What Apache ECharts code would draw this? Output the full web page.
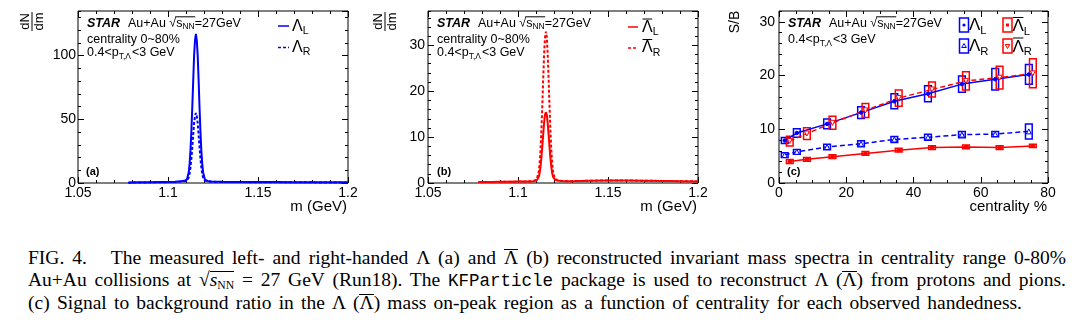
<!DOCTYPE html>
<html>
<head>
<meta charset="utf-8">
<script src="https://cdn.jsdelivr.net/npm/echarts@6/dist/echarts.min.js"></script>
<style>
  html, body { margin: 0; padding: 0; background: #fff; }
  #chart { position: absolute; left: 0; top: 0; width: 1074px; height: 232px; }
  #caption { position: absolute; left: 28px; top: 247px; width: 1038px;
             font-family: "Liberation Serif", serif; font-size: 19.5px; line-height: 22px; color: #000; }
  #caption div { text-align: justify; text-align-last: justify; white-space: nowrap; }
  #caption div.last { width: 994px; }
  .mono { font-family: "Liberation Mono", monospace; font-size: 0.9em; }
  .bar, .rad { display: inline-block; border-top: 1px solid #000; line-height: 0.68em; padding-top: 1px; }
  .sub { font-size: 0.6em; vertical-align: -0.25em; line-height: 0; }
</style>
</head>
<body>
<div id="chart"></div>
<div id="caption">
  <div>FIG. 4.&nbsp;&nbsp; The measured left- and right-handed Λ (a) and <span class="bar">Λ</span> (b) reconstructed invariant mass spectra in centrality range 0-80%</div>
  <div>Au+Au collisions at √<span class="rad"><i>s</i><span class="sub">NN</span></span> = 27 GeV (Run18). The <span class="mono">KFParticle</span> package is used to reconstruct Λ (<span class="bar">Λ</span>) from protons and pions.</div>
  <div class="last">(c) Signal to background ratio in the Λ (<span class="bar">Λ</span>) mass on-peak region as a function of centrality for each observed handedness.</div>
</div>
<script>
// ---- invariant-mass spectra, panels (a) and (b) ----
const massGrid = [1.078, 1.085, 1.09, 1.095, 1.1, 1.104, 1.107, 1.109, 1.1105, 1.1115,
  1.112, 1.1125, 1.113, 1.1135, 1.114, 1.1145, 1.115, 1.1155, 1.116, 1.1165,
  1.117, 1.1175, 1.118, 1.1185, 1.119, 1.1195, 1.1205, 1.122, 1.124, 1.127,
  1.13, 1.135, 1.14, 1.15, 1.16, 1.17, 1.18, 1.19, 1.2];
const lambdaL = [0.3, 0.5, 0.6, 0.7, 0.8, 1.0, 1.3, 1.7, 2.6, 8.4,
  15, 26, 41, 60, 80, 100, 112, 117, 112, 100,
  81, 60, 41, 26, 15.5, 8.5, 2.7, 1.6, 1.2, 1.0,
  0.9, 0.85, 0.8, 0.75, 0.7, 0.65, 0.6, 0.55, 0.5];
const lambdaR = [0.25, 0.4, 0.5, 0.6, 0.7, 0.85, 1.1, 1.4, 1.9, 4.3,
  7.5, 12.5, 19.5, 28.5, 38, 47, 52.5, 55, 52.5, 47,
  38, 28.5, 19.5, 12.5, 7.5, 4.3, 1.9, 1.3, 1.0, 0.85,
  0.8, 0.75, 0.7, 0.65, 0.6, 0.55, 0.5, 0.45, 0.45];
const antiLambdaL = [0.2, 0.2, 0.25, 0.25, 0.3, 0.3, 0.35, 0.4, 0.6, 1.3,
  2.1, 3.5, 5.5, 7.9, 10.6, 13.1, 14.9, 15.4, 14.9, 13.1,
  10.6, 7.9, 5.5, 3.5, 2.1, 1.3, 0.7, 0.55, 0.45, 0.4,
  0.4, 0.45, 0.5, 0.55, 0.55, 0.5, 0.45, 0.4, 0.35];
const antiLambdaR = [0.2, 0.2, 0.25, 0.25, 0.3, 0.3, 0.4, 0.5, 0.9, 2.4,
  4.3, 7.2, 11.5, 16.8, 22.7, 28, 31.8, 33.0, 31.8, 28,
  22.7, 16.8, 11.5, 7.2, 4.3, 2.4, 0.9, 0.6, 0.45, 0.4,
  0.4, 0.45, 0.5, 0.55, 0.55, 0.5, 0.45, 0.4, 0.35];

// ---- signal / background vs centrality, panel (c) ----
const centLambda = [1.7, 5.3, 14.3, 24.4, 34.3, 44.3, 54.4, 64.3, 74.3];
const centAnti   = [3.2, 8.3, 15.9, 25.7, 35.6, 45.5, 55.6, 65.6, 75.5];
const sbLambdaL     = [7.9, 9.3, 11.0, 13.1, 15.2, 16.6, 18.4, 19.3, 20.2];
const sysLambdaL    = [0.55, 0.8, 0.9, 1.1, 1.4, 1.5, 1.5, 2.0, 1.85];
const sbLambdaR     = [5.2, 5.8, 6.7, 7.3, 8.1, 8.5, 9.0, 9.1, 9.6];
const sysLambdaR    = [0.45, 0.45, 0.5, 0.55, 0.55, 0.55, 0.6, 0.5, 1.4];
const sbAntiLambdaL  = [4.0, 4.4, 4.9, 5.5, 6.1, 6.6, 6.7, 6.6, 6.9];
const sysAntiLambdaL = [0.35, 0.35, 0.35, 0.35, 0.35, 0.35, 0.35, 0.35, 0.3];
const sbAntiLambdaR  = [7.8, 9.2, 11.2, 13.5, 15.8, 17.4, 19.0, 19.6, 20.4];
const sysAntiLambdaR = [0.9, 1.1, 1.2, 1.3, 1.5, 1.4, 1.7, 2.1, 2.7];

// ---- axis ranges and tick spacing ----
const massAxis = { min: 1.05, max: 1.2, major: 0.05, minor: 0.01 };
const yAxisA = { min: 0, max: 135, major: 50, minor: 10 };
const yAxisB = { min: 0, max: 37.5, major: 10, minor: 2 };
const centAxis = { min: 0, max: 80, major: 20, minor: 5 };
const yAxisC = { min: 0, max: 32, major: 10, minor: 2 };

const BLUE = '#0000ff';
const RED = '#ff0000';
const SANS = '"Liberation Sans", Arial, sans-serif';
const BOX_HALF = 1.0;   // half width of systematic boxes, in centrality %
const INFO_SIZE = 12.5; // header / selection text
const INFO_SUB = 8.5;

const grids = [
  { left: 78, top: 11, width: 270, height: 172 },
  { left: 428, top: 11, width: 270, height: 172 },
  { left: 779, top: 11, width: 269, height: 172 }
].map(g => Object.assign({ show: true, borderColor: '#000', borderWidth: 1,
  backgroundColor: 'transparent', containLabel: false, outerBoundsMode: 'none' }, g));

// Four axes per side: major ticks with labels, major ticks on the opposite
// side, and the same pair again for the minor ticks.
function makeAxes(gi, dir, cfg, labelMargin, fmt) {
  const near = dir === 'x' ? 'bottom' : 'left';
  const far = dir === 'x' ? 'top' : 'right';
  const base = { gridIndex: gi, type: 'value', min: cfg.min, max: cfg.max,
    axisLine: { show: false, onZero: false }, splitLine: { show: false } };
  const tick = len => ({ show: true, inside: true, length: len, lineStyle: { color: '#000', width: 1 } });
  const noLabel = { show: false };
  return [
    Object.assign({}, base, { position: near, interval: cfg.major, axisTick: tick(6),
      axisLabel: { show: true, margin: labelMargin, color: '#000', fontSize: 14, fontFamily: SANS,
        showMaxLabel: cfg.max % cfg.major < 1e-9 || cfg.major - (cfg.max % cfg.major) < 1e-9,
        formatter: fmt } }),
    Object.assign({}, base, { position: far, interval: cfg.major, axisTick: tick(6), axisLabel: noLabel }),
    Object.assign({}, base, { position: near, interval: cfg.minor, axisTick: tick(3), axisLabel: noLabel }),
    Object.assign({}, base, { position: far, interval: cfg.minor, axisTick: tick(3), axisLabel: noLabel })
  ];
}
const massFmt = v => String(+(+v).toFixed(2));
const intFmt = v => String(Math.round(v));

const xAxes = [].concat(
  makeAxes(0, 'x', massAxis, 3, massFmt),
  makeAxes(1, 'x', massAxis, 3, massFmt),
  makeAxes(2, 'x', centAxis, 3, intFmt));
const yAxes = [].concat(
  makeAxes(0, 'y', yAxisA, 2, intFmt),
  makeAxes(1, 'y', yAxisB, 3, intFmt),
  makeAxes(2, 'y', yAxisC, 4, intFmt));

function spectrum(gi, values, color, dashed) {
  return { type: 'line', xAxisIndex: gi * 4, yAxisIndex: gi * 4,
    data: massGrid.map((m, i) => [m, values[i]]),
    symbol: 'none', showSymbol: false, animation: false, z: 3,
    lineStyle: { color, width: 2, type: dashed ? [3, 2] : 'solid' } };
}
function sysBoxes(xs, vals, sys, color) {
  return { type: 'custom', xAxisIndex: 8, yAxisIndex: 8, animation: false, z: 4,
    data: xs.map((c, i) => [c, vals[i], sys[i]]),
    encode: { x: 0, y: 1 },
    renderItem: (params, api) => {
      const x = api.value(0), y = api.value(1), s = api.value(2);
      const p1 = api.coord([x - BOX_HALF, y + s]);
      const p2 = api.coord([x + BOX_HALF, y - s]);
      return { type: 'rect', shape: { x: p1[0], y: p1[1], width: p2[0] - p1[0], height: p2[1] - p1[1] },
        style: { fill: 'none', stroke: color, lineWidth: 1.5 } };
    } };
}
function sbLine(xs, vals, color, dashed, symbol, size, open) {
  return { type: 'line', xAxisIndex: 8, yAxisIndex: 8, animation: false, z: 5,
    data: xs.map((c, i) => [c, vals[i]]),
    symbol, symbolSize: size, showSymbol: true,
    itemStyle: open ? { color: '#fff', borderColor: color, borderWidth: 1 } : { color, borderColor: color },
    lineStyle: { color, width: 1.5, type: dashed ? [5, 3] : 'solid' } };
}
const INV_TRI = 'path://M0,0L10,0L5,9Z';

const series = [
  spectrum(0, lambdaR, BLUE, true),
  spectrum(0, lambdaL, BLUE, false),
  spectrum(1, antiLambdaL, RED, false),
  spectrum(1, antiLambdaR, RED, true),
  sysBoxes(centLambda, sbLambdaL, sysLambdaL, BLUE),
  sysBoxes(centLambda, sbLambdaR, sysLambdaR, BLUE),
  sysBoxes(centAnti, sbAntiLambdaL, sysAntiLambdaL, RED),
  sysBoxes(centAnti, sbAntiLambdaR, sysAntiLambdaR, RED),
  sbLine(centLambda, sbLambdaL, BLUE, false, 'circle', 3.5, false),
  sbLine(centLambda, sbLambdaR, BLUE, true, 'triangle', 5, true),
  sbLine(centAnti, sbAntiLambdaL, RED, false, 'rect', 3, false),
  sbLine(centAnti, sbAntiLambdaR, RED, true, INV_TRI, 5, true)
];

// ---- annotation text, laid out piece by piece ----
const measureCtx = document.createElement('canvas').getContext('2d');
const graphics = [];
function font(size, extra) { return (extra ? extra + ' ' : '') + size + 'px ' + SANS; }
function textRun(x, y, pieces, color) {
  let cx = x;
  const spans = [];
  pieces.forEach(p => {
    measureCtx.font = p.font;
    const w = measureCtx.measureText(p.text).width;
    graphics.push({ type: 'text', silent: true, z: 100,
      style: { text: p.text, x: cx, y: y + (p.dy || 0), font: p.font, fill: color || '#000',
        align: 'left', verticalAlign: 'middle' } });
    spans.push([cx, cx + w]);
    cx += w + (p.gap || 0);
  });
  return spans;
}
function hline(x1, x2, y, color, width, dash) {
  graphics.push({ type: 'line', silent: true, z: 100,
    shape: { x1, y1: y, x2, y2: y },
    style: { stroke: color || '#000', lineWidth: width || 1, lineDash: dash || null } });
}
function vline(x, y1, y2) {
  graphics.push({ type: 'line', silent: true, z: 100, shape: { x1: x, y1, x2: x, y2 },
    style: { stroke: '#000', lineWidth: 1 } });
}
function label(x, y, text, size, opts) {
  graphics.push({ type: 'text', silent: true, z: 100,
    style: Object.assign({ text, x, y, font: font(size), fill: '#000', align: 'left', verticalAlign: 'middle' }, opts || {}) });
}
function rotated(x, y, text, size) {
  graphics.push({ type: 'text', silent: true, z: 100, x, y, rotation: Math.PI / 2,
    style: { text, x: 0, y: 0, font: font(size), fill: '#000', align: 'center', verticalAlign: 'middle' } });
}

function starHeader(x0) {
  textRun(x0, 24, [{ text: 'STAR', font: font(12.5, 'bold italic') }]);
  const sp = textRun(x0 + 41, 24, [
    { text: 'Au+Au ', font: font(INFO_SIZE) },
    { text: '√', font: font(INFO_SIZE) },
    { text: 's', font: font(INFO_SIZE) },
    { text: 'NN', font: font(INFO_SUB), dy: 3 },
    { text: '=27GeV', font: font(INFO_SIZE) }
  ]);
  hline(sp[1][1] - 1, sp[3][1] + 0.5, 16.8, '#000', 1);
}
function ptLine(x0, y) {
  textRun(x0, y, [
    { text: '0.4<p', font: font(INFO_SIZE) },
    { text: 'T,Λ', font: font(INFO_SUB), dy: 4, gap: 1 },
    { text: '<3 GeV', font: font(INFO_SIZE) }
  ]);
}
function legendName(x, y, sub, size, anti) {
  const sp = textRun(x, y, [
    { text: 'Λ', font: font(size) },
    { text: sub, font: font(size * 0.66), dy: size * 0.31 }
  ]);
  if (anti) hline(sp[0][0] + 0.5, sp[0][1] - 0.5, y - size * 0.53, '#000', 1);
}

// panel (a)
starHeader(87);
label(87, 40, 'centrality 0~80%', INFO_SIZE);
ptLine(87, 52.5);
hline(278, 289, 26, BLUE, 1.5);
legendName(292, 26.5, 'L', 16);
hline(278, 289, 47.5, BLUE, 1.5, [3, 2]);
legendName(292, 47.5, 'R', 16);
label(86, 172, '(a)', 11, { font: font(11, 'bold') });
label(347, 207, 'm (GeV)', 15, { align: 'right' });
rotated(25, 21.5, 'dN', 13);
rotated(39, 21.5, 'dm', 13);
vline(32, 12, 31);

// panel (b)
starHeader(437);
label(437, 40, 'centrality 0~80%', INFO_SIZE);
ptLine(437, 52.5);
hline(628, 638, 27, RED, 1.5);
legendName(642, 27.5, 'L', 16, true);
hline(628, 638, 48, RED, 1.5, [3, 2]);
legendName(642, 48, 'R', 16, true);
label(437, 172, '(b)', 11, { font: font(11, 'bold') });
label(697, 207, 'm (GeV)', 15, { align: 'right' });
rotated(378, 21.5, 'dN', 13);
rotated(392, 21.5, 'dm', 13);
vline(385, 12, 31);

// panel (c)
starHeader(788);
ptLine(788, 40);
label(787, 172, '(c)', 11, { font: font(11, 'bold') });
label(1047, 207, 'centrality %', 15, { align: 'right' });
rotated(735, 22, 'S/B', 14);

function legendBox(x, y, color) {
  graphics.push({ type: 'rect', silent: true, z: 100, shape: { x, y: y - 7, width: 9, height: 14 },
    style: { fill: 'none', stroke: color, lineWidth: 1.5 } });
}
legendBox(959.5, 25, BLUE);
graphics.push({ type: 'circle', silent: true, z: 100, shape: { cx: 964, cy: 25, r: 1.6 }, style: { fill: BLUE } });
legendName(969, 25.5, 'L', 17);
legendBox(959.5, 46, BLUE);
graphics.push({ type: 'polygon', silent: true, z: 100, shape: { points: [[964, 43.5], [966.3, 47.5], [961.7, 47.5]] },
  style: { fill: '#fff', stroke: BLUE, lineWidth: 1 } });
legendName(969, 46.5, 'R', 17);
legendBox(1003, 25, RED);
graphics.push({ type: 'rect', silent: true, z: 100, shape: { x: 1006, y: 23.5, width: 3, height: 3 }, style: { fill: RED } });
legendName(1012.5, 26.5, 'L', 17, true);
legendBox(1003, 46, RED);
graphics.push({ type: 'polygon', silent: true, z: 100, shape: { points: [[1005.2, 44.5], [1009.8, 44.5], [1007.5, 48.5]] },
  style: { fill: '#fff', stroke: RED, lineWidth: 1 } });
legendName(1012.5, 47, 'R', 17, true);

const chart = echarts.init(document.getElementById('chart'), null, { renderer: 'canvas' });
chart.setOption({
  animation: false,
  backgroundColor: '#fff',
  textStyle: { fontFamily: SANS },
  grid: grids,
  xAxis: xAxes,
  yAxis: yAxes,
  series,
  graphic: graphics
});
</script>
</body>
</html>
